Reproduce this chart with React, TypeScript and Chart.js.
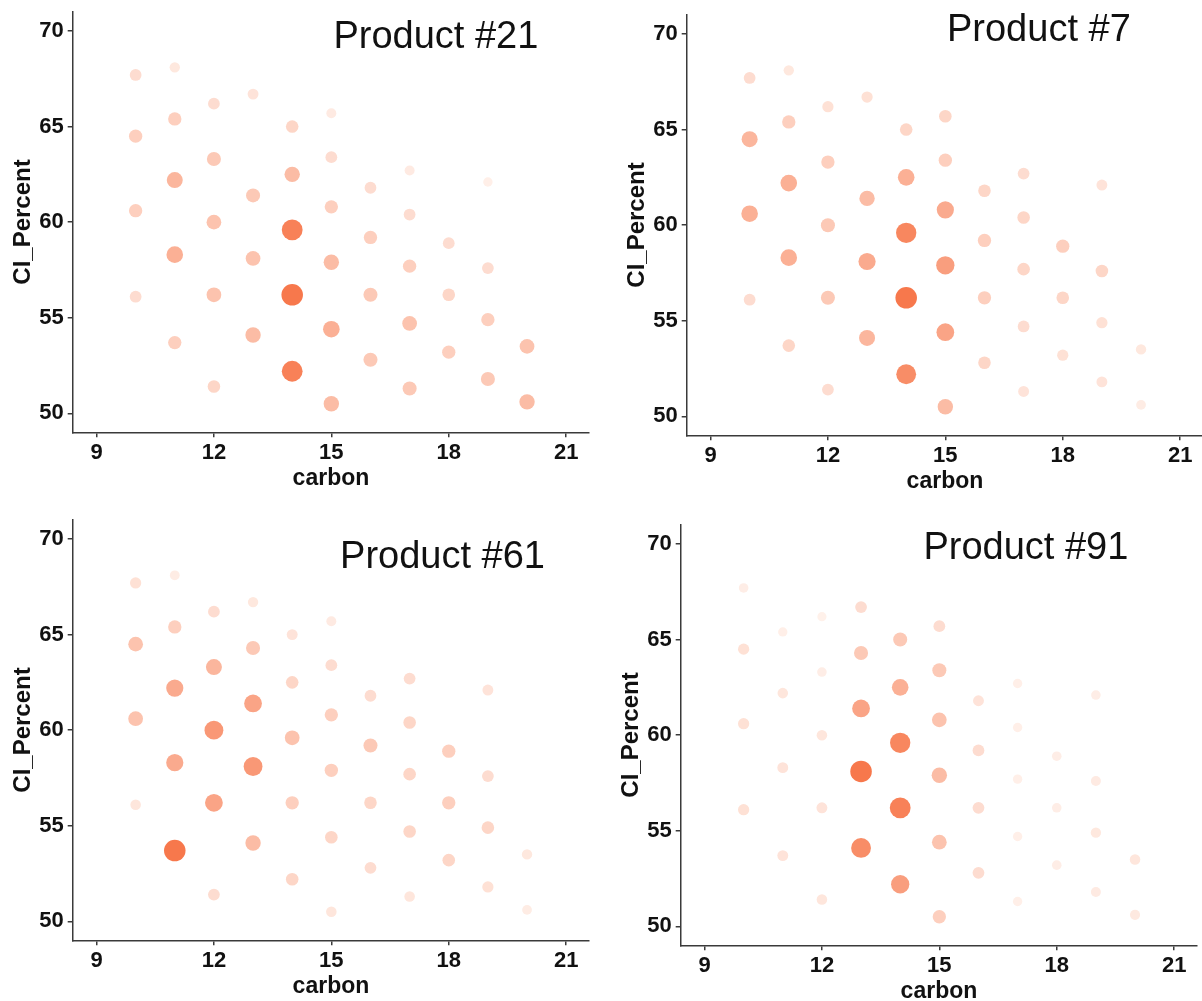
import React, { useEffect, useRef } from "react";
import { Chart, registerables } from "chart.js";

Chart.register(...registerables);

// ---- data -------------------------------------------------------------
// grid of (carbon, CI_Percent) cells shared by all four products
const carbon = [
  10, 10, 10, 10,
  11, 11, 11, 11, 11,
  12, 12, 12, 12, 12,
  13, 13, 13, 13, 13,
  14, 14, 14, 14, 14,
  15, 15, 15, 15, 15, 15,
  16, 16, 16, 16,
  17, 17, 17, 17, 17,
  18, 18, 18,
  19, 19, 19, 19,
  20, 20,
];
const ciPercent = [
  67.7, 64.5, 60.6, 56.1,
  68.1, 65.4, 62.2, 58.3, 53.7,
  66.2, 63.3, 60.0, 56.2, 51.4,
  66.7, 64.3, 61.4, 58.1, 54.1,
  65.0, 62.5, 59.6, 56.2, 52.2,
  65.7, 63.4, 60.8, 57.9, 54.4, 50.5,
  61.8, 59.2, 56.2, 52.8,
  62.7, 60.4, 57.7, 54.7, 51.3,
  58.9, 56.2, 53.2,
  62.1, 57.6, 54.9, 51.8,
  53.5, 50.6,
];

// per-cell weight (drives point size and colour) for each product
const product21 = [
  1.5, 2.5, 2.5, 1.5,
  0.7, 2.5, 4.5, 5, 2.5,
  1.5, 3, 3.5, 3.5, 2,
  1, 0, 3, 3.5, 4,
  2, 4, 9, 10, 9,
  0.5, 1.5, 2.5, 4, 5, 4,
  1.5, 2.5, 3, 3,
  0.5, 1.5, 2.5, 3.5, 3,
  1.5, 2, 2.5,
  0.2, 1.5, 2.5, 3,
  3.5, 4,
];
const product7 = [
  1.5, 4.5, 5, 1.5,
  0.7, 2.5, 5, 5, 2,
  1.2, 2.5, 3, 3, 1.5,
  1.2, 0, 4, 5.5, 4.5,
  2, 5, 8.5, 10, 8,
  2, 2.5, 5.5, 6.5, 6, 4,
  2, 2.5, 2.5, 2,
  1.5, 2, 2, 1.5, 1,
  2.5, 2, 1.2,
  1, 2, 1.2, 1,
  0.7, 0.4,
];
const product61 = [
  1.2, 3.5, 3.5, 0.8,
  0.4, 2.5, 5.5, 5.5, 10,
  1.5, 4.5, 7, 6, 1.5,
  0.7, 3, 6, 7, 4,
  1, 2, 3.5, 2.5, 2,
  0.5, 1.5, 2.5, 2.5, 2, 0.8,
  1.5, 3, 2, 1.5,
  1.5, 2, 2, 2, 0.8,
  2.5, 2.5, 2,
  1, 1.5, 2, 1.2,
  0.7, 0.4,
];
const product91 = [
  0.3, 1.2, 1.2, 1.2,
  0, 0.2, 0.8, 1, 1,
  0.1, 0.3, 0.8, 1, 0.8,
  1.5, 3, 6, 10, 8,
  3, 5, 8.5, 9, 6.5,
  1.5, 3, 3.5, 4, 3.5, 2.5,
  1, 1.5, 1.5, 1.5,
  0.2, 0.2, 0.2, 0.2, 0.2,
  0.3, 0.3, 0.3,
  0.3, 0.5, 0.7, 0.5,
  0.8, 0.6,
];

const xTickValues = [9, 12, 15, 18, 21];
const yTickValues = [50, 55, 60, 65, 70];

// ---- styling ----------------------------------------------------------
const FONT = "'Liberation Sans', Arial, Helvetica, sans-serif";
const AXIS = "#3a3a3a";
const TEXT = "#111111";

function level(w: number) {
  return Math.min(1, 0.02 + 0.1 * w);
}
function radiusFor(w: number) {
  return Math.sqrt(18 + 98 * level(w));
}
function colorFor(w: number) {
  const v = Math.pow(level(w), 0.9);
  const r = Math.round(255 + (247 - 255) * v);
  const g = Math.round(246 + (120 - 246) * v);
  const b = Math.round(241 + (76 - 241) * v);
  return `rgb(${r},${g},${b})`;
}

type PanelSpec = {
  title: string;
  weights: number[];
  left: number;
  top: number;
  height: number;
  titleX: number;
  titleY: number;
};

const panels: PanelSpec[] = [
  { title: "Product #21", weights: product21, left: 0, top: 0, height: 500, titleX: 17.67, titleY: 69.64 },
  { title: "Product #7", weights: product7, left: 614, top: 3, height: 485, titleX: 17.39, titleY: 70.2 },
  { title: "Product #61", weights: product61, left: 0, top: 508, height: 500, titleX: 17.84, titleY: 69.03 },
  { title: "Product #91", weights: product91, left: 608, top: 513, height: 500, titleX: 17.21, titleY: 69.79 },
];

function Panel({ spec }: { spec: PanelSpec }) {
  const ref = useRef<HTMLCanvasElement>(null);

  useEffect(() => {
    if (!ref.current) return;
    const pts = carbon
      .map((x, i) => ({ x, y: ciPercent[i], w: spec.weights[i] }))
      .filter((p) => p.w > 0);

    const titlePlugin = {
      id: "panelTitle",
      afterDraw(chart: any) {
        const { ctx, scales } = chart;
        ctx.save();
        ctx.font = `38px ${FONT}`;
        ctx.fillStyle = TEXT;
        ctx.textAlign = "center";
        ctx.textBaseline = "middle";
        ctx.fillText(
          spec.title,
          scales.x.getPixelForValue(spec.titleX),
          scales.y.getPixelForValue(spec.titleY)
        );
        ctx.restore();
      },
    };

    const chart = new Chart(ref.current, {
      type: "scatter",
      data: {
        datasets: [
          {
            data: pts as any,
            pointRadius: (c: any) => (c.raw ? radiusFor(c.raw.w) : 4),
            pointHoverRadius: (c: any) => (c.raw ? radiusFor(c.raw.w) : 4),
            pointBackgroundColor: (c: any) => (c.raw ? colorFor(c.raw.w) : "#fff"),
            pointHoverBackgroundColor: (c: any) => (c.raw ? colorFor(c.raw.w) : "#fff"),
            pointBorderWidth: 0,
            pointHoverBorderWidth: 0,
          } as any,
        ],
      },
      options: {
        responsive: false,
        animation: false,
        events: [],
        layout: { padding: { top: 11.7, right: 6, left: 0, bottom: 0 } },
        plugins: {
          legend: { display: false },
          tooltip: { enabled: false },
        },
        scales: {
          x: {
            type: "linear",
            min: 8.392,
            max: 21.589,
            afterBuildTicks: (s: any) => {
              s.ticks = xTickValues.map((v) => ({ value: v }));
            },
            afterFit: (s: any) => {
              s.height = 67.7;
              s.paddingLeft = 0;
              s.paddingRight = 0;
            },
            grid: {
              display: true,
              drawOnChartArea: false,
              drawTicks: true,
              tickLength: 5,
              color: AXIS,
              lineWidth: 1.5,
            },
            border: { display: true, color: AXIS, width: 1.5 },
            ticks: {
              color: TEXT,
              font: { family: FONT, size: 22, weight: "bold" },
              padding: 2,
              maxRotation: 0,
              autoSkip: false,
            },
            title: {
              display: true,
              text: "carbon",
              color: TEXT,
              font: { family: FONT, size: 23, weight: "bold" },
              padding: { top: 0, bottom: 8 },
            },
          },
          y: {
            type: "linear",
            min: 49.007,
            max: 71.01,
            afterBuildTicks: (s: any) => {
              s.ticks = yTickValues.map((v) => ({ value: v }));
            },
            afterFit: (s: any) => {
              s.width = 72.7;
              s.paddingTop = 0;
              s.paddingBottom = 0;
            },
            grid: {
              display: true,
              drawOnChartArea: false,
              drawTicks: true,
              tickLength: 5,
              color: AXIS,
              lineWidth: 1.5,
            },
            border: { display: true, color: AXIS, width: 1.5 },
            ticks: {
              color: TEXT,
              font: { family: FONT, size: 22, weight: "bold" },
              padding: 4,
              autoSkip: false,
            },
            title: {
              display: true,
              text: "CI_Percent",
              color: TEXT,
              font: { family: FONT, size: 24, weight: "bold" },
              padding: { top: 9, bottom: 0 },
            },
          },
        },
      } as any,
      plugins: [titlePlugin],
    });

    return () => chart.destroy();
  }, [spec]);

  return (
    <div
      style={{
        position: "absolute",
        left: spec.left,
        top: spec.top,
        width: 600,
        height: spec.height,
        overflow: "hidden",
      }}
    >
      <canvas ref={ref} width={600} height={500} style={{ display: "block" }} />
    </div>
  );
}

export default function App() {
  return (
    <div
      style={{
        position: "absolute",
        left: 0,
        top: 0,
        width: 1202,
        height: 1001,
        overflow: "hidden",
        background: "#ffffff",
      }}
    >
      {panels.map((p) => (
        <Panel key={p.title} spec={p} />
      ))}
    </div>
  );
}
